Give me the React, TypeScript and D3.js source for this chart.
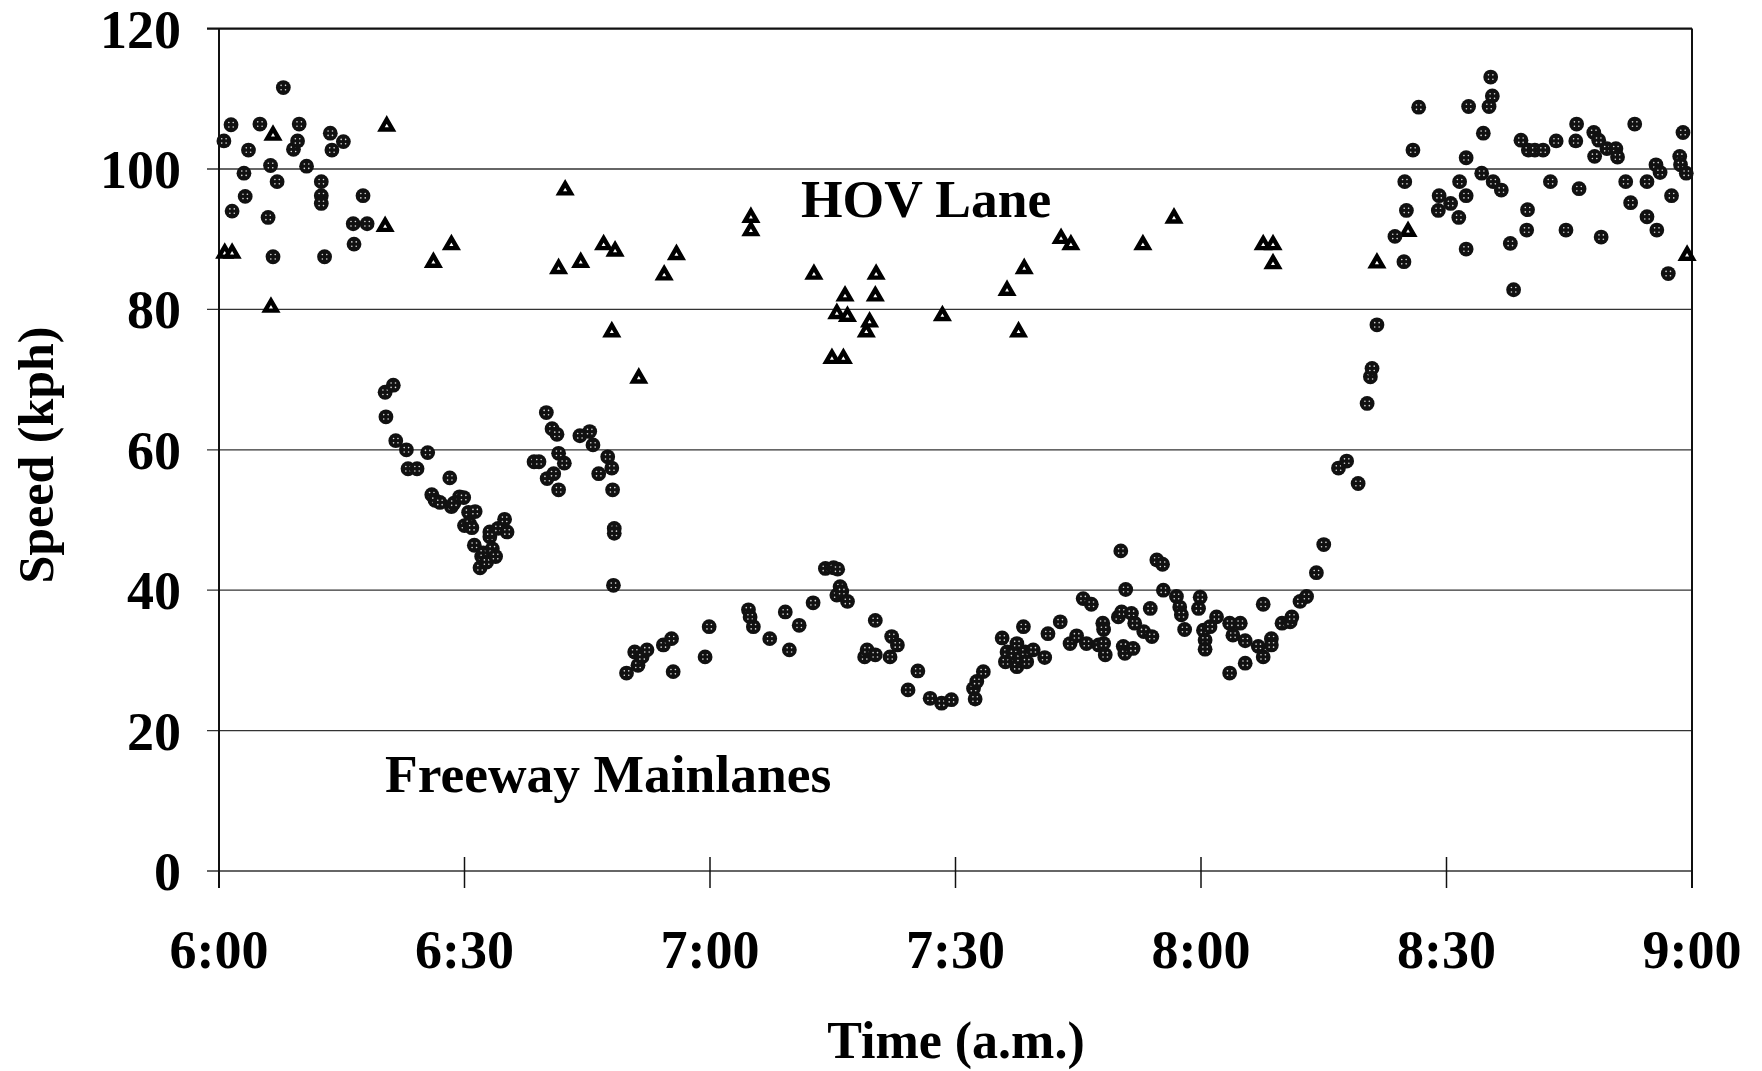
import React from "react";
import * as d3 from "d3";

// minutes after 6:00 a.m., speed in kph
const hovTime = [0.7, 1.6, 6.6, 6.35, 20.5, 20.3, 26.2, 28.4, 41.5, 42.3, 44.2, 47.0, 48.4, 48.0, 51.3, 54.4, 55.9, 65.0, 65.0, 72.7, 74.9, 76.3, 75.5, 76.8, 76.5, 79.5, 79.1, 80.2, 80.3, 88.4, 96.3, 97.7, 98.4, 102.9, 104.1, 112.9, 116.7, 127.6, 128.8, 128.8, 141.5, 145.3, 179.4];
const hovSpeed = [88.0, 88.0, 104.8, 80.3, 106.1, 91.8, 86.7, 89.2, 85.8, 97.0, 86.7, 89.2, 88.3, 76.8, 70.2, 84.9, 87.8, 93.1, 91.2, 85.0, 73.0, 73.0, 79.4, 79.0, 81.9, 78.2, 76.8, 81.9, 85.0, 79.1, 82.7, 76.8, 85.8, 90.1, 89.2, 89.2, 93.0, 89.2, 89.2, 86.5, 86.6, 91.1, 87.7];

const mainTime = [
  0.6, 1.47, 1.6, 3.05, 3.2, 3.6, 5.0, 6.0, 6.3, 6.6, 7.1, 7.86, 9.1, 9.6, 9.8, 10.7, 12.5, 12.5, 12.5, 12.9, 13.6, 13.8, 15.2, 16.4, 16.5, 17.6, 18.1,
  20.3, 21.3, 20.4, 21.6, 22.9, 23.1, 24.2, 25.5,
  26.0, 26.4, 27.0, 28.2, 28.4, 28.7, 29.4, 29.9, 30.0, 30.5, 30.6, 30.9, 31.2, 31.3, 31.9, 32.1, 32.3, 32.7, 33.1, 33.1, 33.4, 33.8, 34.1, 34.9, 35.2,
  38.5, 39.1, 40.0, 40.1, 40.7, 40.9, 41.3, 41.5, 41.5, 42.2, 44.1, 45.3, 45.7, 46.4, 47.5, 48.0, 48.1, 48.3, 48.3, 48.2,
  49.8, 50.8, 51.2, 51.7, 52.3, 54.3, 55.3, 55.5, 59.4, 59.9,
  64.7, 64.9, 65.3, 67.3, 69.2, 69.7, 70.9, 72.6, 74.1, 75.1, 75.6, 75.5, 75.9, 76.1, 76.8, 78.9, 79.2, 80.2, 80.2, 82.0, 82.2, 82.9, 84.2, 85.4, 86.9, 88.3, 89.5, 92.2, 92.4, 92.6, 93.4,
  95.7, 96.1, 96.3, 97.1, 97.5, 97.5, 97.9, 98.3, 98.5, 98.7, 99.5, 100.9, 101.3, 102.8, 104.0, 104.8, 105.6, 106.0, 106.6, 107.5, 108.0, 108.1, 108.1, 108.3, 109.9, 110.2, 110.3, 110.5, 110.7, 110.8, 111.5, 111.7, 111.9, 113.0, 113.8, 114.0, 114.6, 115.3, 115.4, 117.0, 117.4, 117.6, 118.0, 119.7, 119.9, 120.3, 120.5, 120.5, 121.1, 121.9, 123.5, 123.5, 123.9, 124.8, 125.4, 125.4, 127.0, 127.6, 127.6, 128.6, 128.6, 129.9, 130.9, 131.1, 132.1, 132.9, 134.1, 135.0,
  136.8, 137.8, 139.2, 140.3, 140.7, 140.9, 141.5, 143.7, 144.8, 144.9, 145.1, 145.9, 146.6, 149.0, 149.1, 150.5, 151.5, 151.6, 152.4, 152.4, 152.4, 152.7, 154.3, 154.5, 155.2, 155.6, 155.4, 155.7, 156.7, 157.8, 158.2, 159.1, 159.9, 159.8, 160.0, 160.8, 161.8, 162.7, 163.4, 164.6, 165.9, 165.8, 166.2, 168.0, 168.6, 168.1, 168.9, 169.6, 170.7, 170.9, 171.9, 172.5, 173.0, 174.5, 174.5, 175.6, 176.1, 175.7, 177.1, 177.5, 178.5, 178.9, 178.6, 179.3
];
const mainSpeed = [
  104.0, 106.3, 94.0, 99.4, 96.1, 102.7, 106.4, 93.1, 100.5, 87.5, 98.2, 111.6, 102.8, 104.0, 106.4, 100.4, 98.2, 96.2, 95.1, 87.5, 105.1, 102.7, 103.9, 92.2, 89.3, 96.2, 92.2,
  68.2, 69.2, 64.7, 61.3, 60.0, 57.3, 57.3, 59.6,
  53.6, 52.8, 52.5, 56.0, 51.9, 52.4, 53.3, 53.2, 49.2, 51.1, 49.5, 48.9, 46.4, 51.2, 43.2, 44.8, 45.3, 44.0, 47.6, 48.3, 45.9, 44.8, 48.8, 50.1, 48.3,
  58.3, 58.3, 65.3, 55.9, 63.0, 56.6, 62.2, 59.5, 54.3, 58.1, 62.0, 62.6, 60.7, 56.6, 59.0, 57.4, 54.3, 48.8, 48.1, 40.7,
  28.2, 31.2, 29.3, 30.5, 31.5, 32.2, 33.1, 28.4, 30.5, 34.8,
  37.2, 36.2, 34.8, 33.1, 36.9, 31.5, 35.0, 38.2, 43.1, 43.2, 43.0, 39.3, 40.5, 39.8, 38.4, 30.5, 31.5, 30.8, 35.7, 30.5, 33.4, 32.2, 25.8, 28.5, 24.6, 23.9, 24.4, 26.0, 24.5, 27.0, 28.4,
  33.2, 29.8, 31.2, 31.0, 32.4, 29.1, 30.3, 34.8, 31.2, 29.8, 31.5, 30.4, 33.8, 35.5, 32.4, 33.5, 38.8, 32.4, 38.0, 32.2, 35.3, 34.4, 32.4, 30.8, 36.2, 45.6, 36.9, 32.0, 31.0, 40.1, 36.7, 31.7, 35.3, 34.1, 37.4, 33.4, 44.3, 43.7, 40.0, 39.1, 37.6, 36.5, 34.4, 37.4, 39.0, 34.3, 32.9, 31.6, 34.8, 36.2, 35.3, 28.2, 33.6, 35.3, 32.8, 29.6, 32.0, 38.0, 30.5, 33.1, 32.2, 35.3, 35.5, 36.2, 38.4, 39.1, 42.5, 46.5,
  57.4, 58.4, 55.2, 66.6, 70.4, 71.6, 77.8, 90.4, 86.8, 98.2, 94.1, 102.7, 108.8, 94.1, 96.2, 95.1, 93.1, 98.2, 101.6, 96.2, 88.6, 108.9, 99.4, 105.1, 108.9, 110.4, 113.1, 98.2, 97.0, 89.4, 82.8, 104.1, 94.2, 91.3, 102.7, 102.7, 102.7, 98.2, 104.0, 91.3, 106.4, 104.0, 97.2, 105.2, 104.1, 101.8, 90.3, 102.9, 102.9, 101.7, 98.2, 95.2, 106.4, 98.2, 93.2, 100.6, 99.5, 91.3, 85.1, 96.2, 101.8, 105.2, 100.6, 99.4
];

const xTickValues = [0, 30, 60, 90, 120, 150, 180];
const xTickLabels = ["6:00", "6:30", "7:00", "7:30", "8:00", "8:30", "9:00"];
const yTickValues = [0, 20, 40, 60, 80, 100, 120];

const W = 1762;
const H = 1071;
const FONT = "'Liberation Serif', 'Times New Roman', serif";

export default function App() {
  const x = d3.scaleLinear().domain([0, 180]).range([219, 1692]);
  const y = d3.scaleLinear().domain([0, 120]).range([871, 28.6]);
  const tri = d3.symbol().type(d3.symbolTriangle).size(58)() as string;
  const dotOffsets = [[-2.2, -2.2], [2.2, -2.2], [-2.2, 2.2], [2.2, 2.2]];
  const mains = mainTime.map((t, i) => ({ t, v: mainSpeed[i] }));
  const hovs = hovTime.map((t, i) => ({ t, v: hovSpeed[i] }));
  const y0 = y(0);
  const yTop = y(120);

  return (
    <svg width={W} height={H} style={{ position: "absolute", left: 0, top: 0, background: "#fff" }} fontFamily={FONT}>
      <rect width={W} height={H} fill="#fff" />
      {/* gridlines */}
      {yTickValues.map((v) => (
        <line key={"g" + v} x1={207} x2={x(180)} y1={y(v)} y2={y(v)} stroke={v === 120 ? "#111" : "#333"} strokeWidth={v === 120 ? 2.2 : 1.3} />
      ))}
      {/* axes */}
      <line x1={x(0)} x2={x(0)} y1={yTop} y2={y0 + 17} stroke="#111" strokeWidth={2} />
      <line x1={x(180)} x2={x(180)} y1={yTop} y2={y0 + 17} stroke="#111" strokeWidth={2} />
      {xTickValues.map((t) => (
        <line key={"xt" + t} x1={x(t)} x2={x(t)} y1={y0 - 14} y2={y0 + 17} stroke="#111" strokeWidth={1.5} />
      ))}
      {/* tick labels */}
      {yTickValues.map((v) => (
        <text key={"yl" + v} x={181} y={y(v)} dy="0.35em" textAnchor="end" fontSize={54} fontWeight="bold" fill="#000">{v}</text>
      ))}
      {xTickValues.map((t, i) => (
        <text key={"xl" + t} x={x(t)} y={968} textAnchor="middle" fontSize={54} fontWeight="bold" fill="#000">{xTickLabels[i]}</text>
      ))}
      <text transform="translate(53,455) rotate(-90)" textAnchor="middle" fontSize={50} fontWeight="bold" fill="#000">Speed (kph)</text>
      <text x={956} y={1058} textAnchor="middle" fontSize={52} fontWeight="bold" fill="#000">Time (a.m.)</text>
      <text x={801} y={217} fontSize={53.5} fontWeight="bold" fill="#000">HOV Lane</text>
      <text x={385} y={792} fontSize={53.5} fontWeight="bold" fill="#000">Freeway Mainlanes</text>
      {/* HOV triangles */}
      {hovs.map((d, i) => (
        <path key={"h" + i} d={tri} transform={`translate(${x(d.t)},${y(d.v)})`} fill="#fff" stroke="#000" strokeWidth={4.4} strokeLinejoin="miter" />
      ))}
      {/* mainlane circles */}
      {mains.map((d, i) => (
        <g key={"m" + i} transform={`translate(${x(d.t)},${y(d.v)})`}>
          <circle r={7.4} fill="#111" />
          {dotOffsets.map((o, j) => (
            <circle key={j} cx={o[0]} cy={o[1]} r={0.8} fill="#fff" opacity={0.85} />
          ))}
        </g>
      ))}
    </svg>
  );
}
